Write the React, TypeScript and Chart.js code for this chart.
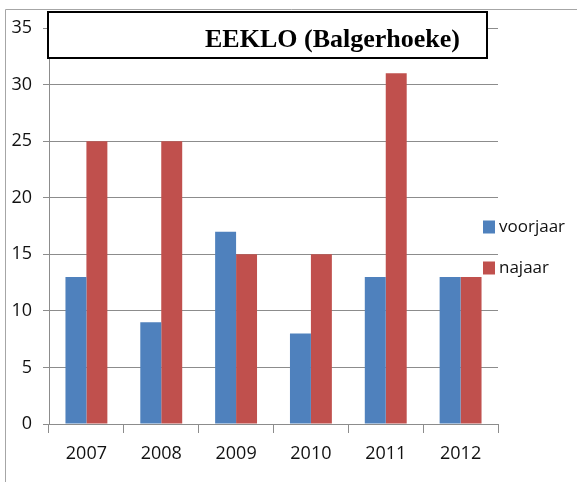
import React, { useEffect, useRef } from "react";
import { Chart, registerables } from "chart.js";

Chart.register(...registerables);

const categories = ["2007", "2008", "2009", "2010", "2011", "2012"];
const voorjaar = [13, 9, 17, 8, 13, 13];
const najaar = [25, 25, 15, 15, 31, 13];
const seriesLabels = ["voorjaar", "najaar"];
const seriesColors = ["#4F81BD", "#C0504D"];
const titleText = "EEKLO (Balgerhoeke)";

const TICK_FONT = "'Open Sans', 'DejaVu Sans', sans-serif";

const decorPlugin = {
  id: "decor",
  beforeDraw(chart: any) {
    const ctx = chart.ctx;
    ctx.save();
    ctx.fillStyle = "#ffffff";
    ctx.fillRect(0, 0, chart.width, chart.height);
    ctx.strokeStyle = "#a6a6a6";
    ctx.lineWidth = 1;
    ctx.beginPath();
    ctx.moveTo(5.5, chart.height);
    ctx.lineTo(5.5, 9.5);
    ctx.lineTo(chart.width, 9.5);
    ctx.stroke();
    ctx.restore();
  },
  afterDraw(chart: any) {
    const ctx = chart.ctx;
    ctx.save();
    // title box
    ctx.fillStyle = "#ffffff";
    ctx.fillRect(47, 11, 441, 48);
    ctx.strokeStyle = "#000000";
    ctx.lineWidth = 2;
    ctx.strokeRect(48, 12, 439, 46);
    ctx.fillStyle = "#000000";
    ctx.font = "bold 26px 'Liberation Serif', 'Times New Roman', serif";
    ctx.textAlign = "left";
    ctx.textBaseline = "alphabetic";
    ctx.fillText(titleText, 205, 47);
    // legend
    ctx.font = "17px " + TICK_FONT;
    ctx.textBaseline = "middle";
    const ys = [227, 268];
    chart.data.datasets.forEach((ds: any, i: number) => {
      ctx.fillStyle = ds.backgroundColor;
      ctx.fillRect(483, ys[i] - 6.5, 12, 13);
      ctx.fillStyle = "#111111";
      ctx.fillText(ds.label, 499, ys[i]);
    });
    ctx.restore();
  },
};

export default function App() {
  const ref = useRef<HTMLCanvasElement | null>(null);
  useEffect(() => {
    if (!ref.current) return;
    const chart = new Chart(ref.current, {
      type: "bar",
      data: {
        labels: categories,
        datasets: [
          { label: seriesLabels[0], data: voorjaar, backgroundColor: seriesColors[0] },
          { label: seriesLabels[1], data: najaar, backgroundColor: seriesColors[1] },
        ],
      },
      options: {
        animation: false,
        responsive: false,
        maintainAspectRatio: false,
        layout: { padding: { left: 0, top: 28, right: 79, bottom: 0 } },
        datasets: { bar: { barPercentage: 1, categoryPercentage: 0.56 } },
        plugins: {
          legend: { display: false },
          title: { display: false },
          tooltip: { enabled: false },
        },
        scales: {
          x: {
            afterFit: (s: any) => {
              s.height = 58;
            },
            grid: {
              offset: true,
              drawOnChartArea: false,
              drawTicks: true,
              tickLength: 9,
              color: "#8c8c8c",
            },
            border: { color: "#8c8c8c", width: 1 },
            ticks: {
              color: "#111111",
              font: { family: TICK_FONT, size: 18 },
              padding: 10,
            },
          },
          y: {
            min: 0,
            max: 35,
            afterFit: (s: any) => {
              s.width = 49;
            },
            grid: {
              color: "#8c8c8c",
              tickLength: 6,
            },
            border: { color: "#8c8c8c", width: 1 },
            ticks: {
              stepSize: 5,
              color: "#111111",
              font: { family: TICK_FONT, size: 18 },
              padding: 11,
            },
          },
        },
      },
      plugins: [decorPlugin],
    });
    return () => chart.destroy();
  }, []);
  return (
    <div style={{ position: "fixed", left: 0, top: 0, width: 577, height: 482 }}>
      <canvas ref={ref} width={577} height={482} style={{ display: "block" }} />
    </div>
  );
}
